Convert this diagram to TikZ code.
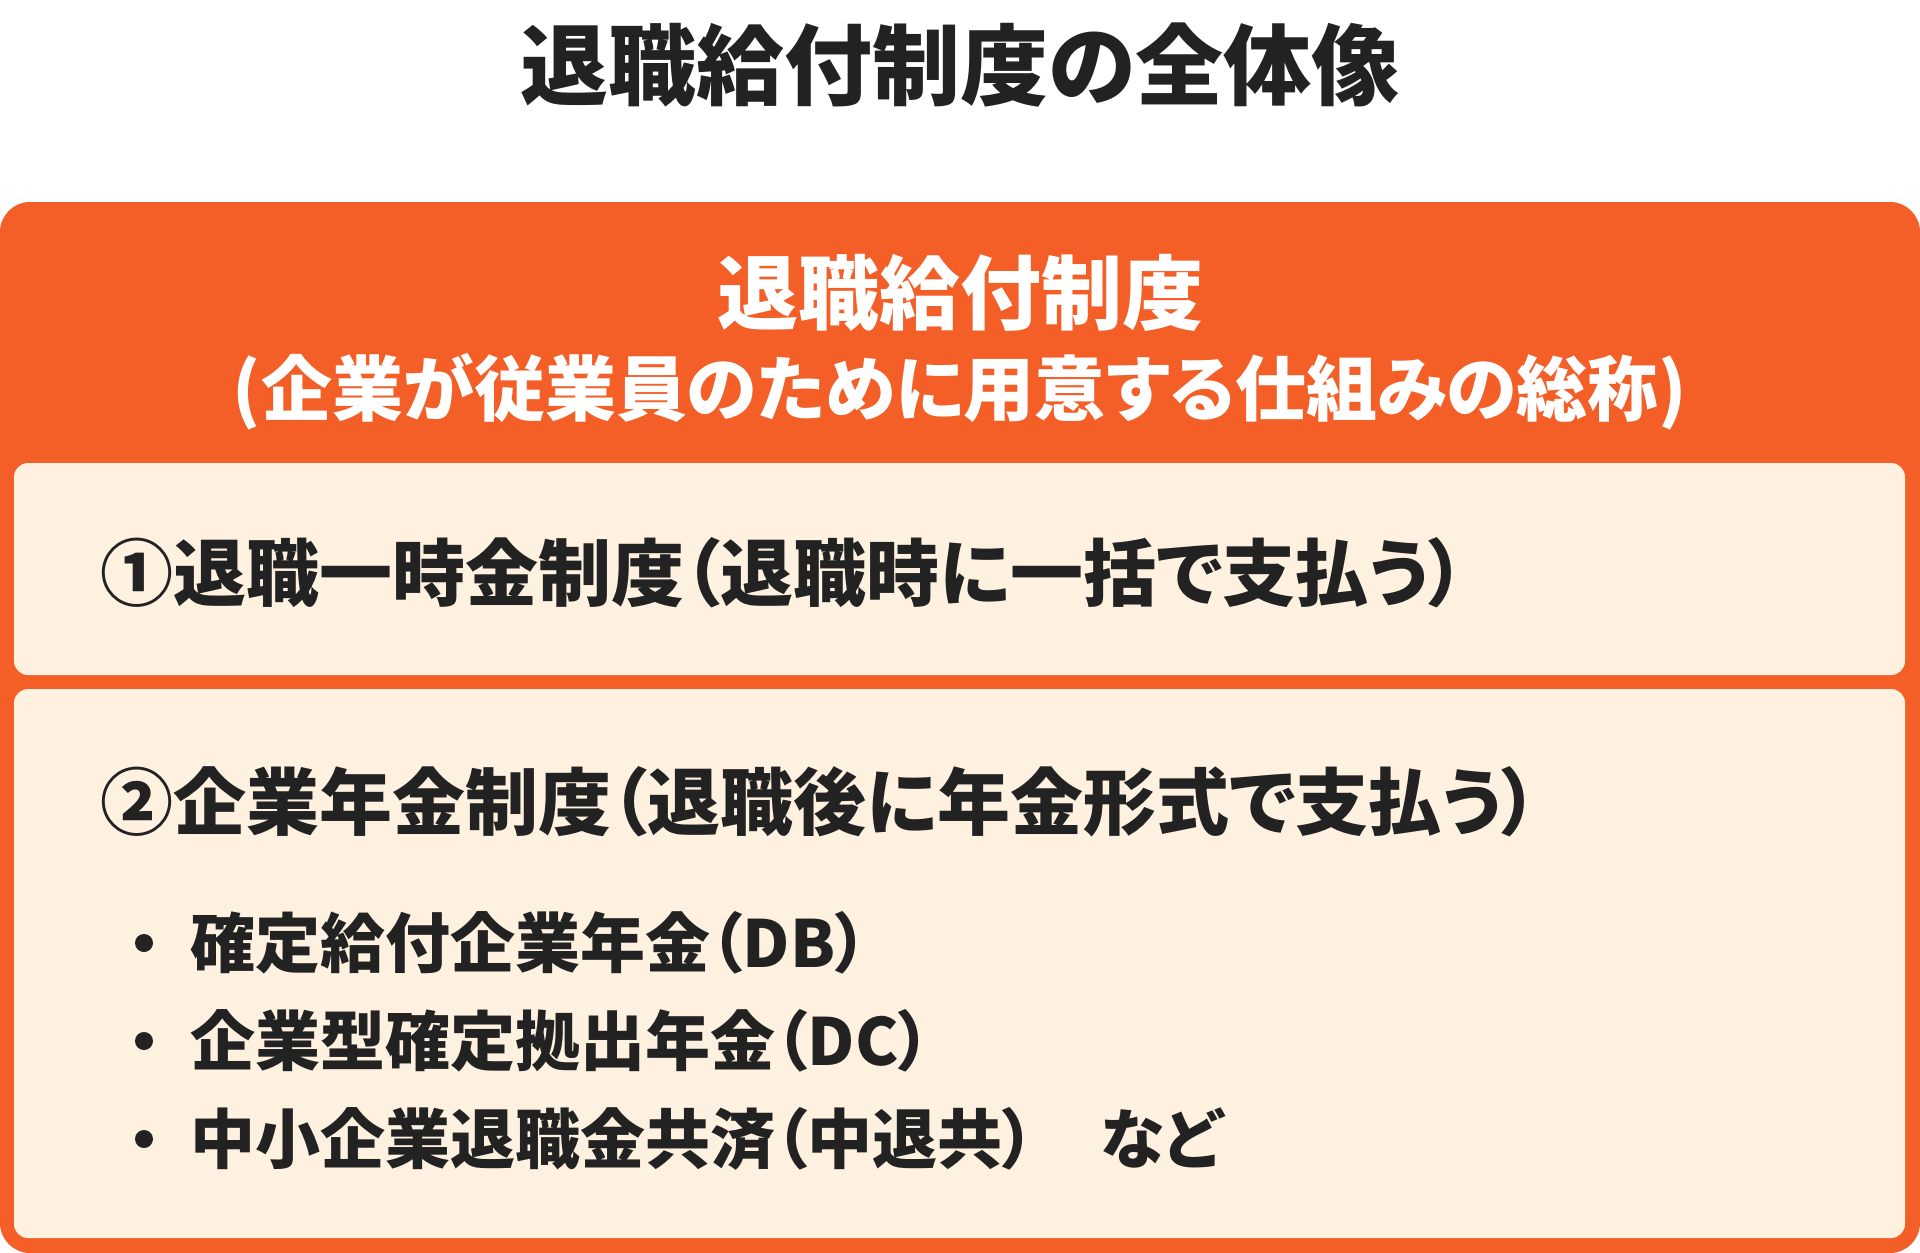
\documentclass[tikz,border=0pt]{standalone}
\usepackage{fontspec}
\setmainfont{Noto Sans CJK JP}[RawFeature=+palt]
\usetikzlibrary{positioning}
\definecolor{retireorange}{RGB}{244,94,39}
\definecolor{retirecream}{RGB}{254,241,224}
\definecolor{retireink}{RGB}{34,34,34}
\tikzset{
  outerframe/.style={fill=retireorange, rounded corners=30pt, inner sep=0pt,
                     minimum width=1920pt, minimum height=1051pt},
  panel/.style={fill=retirecream, rounded corners=14pt, inner sep=0pt,
                minimum width=1891pt},
  titletext/.style={text=retireink, inner sep=0pt,
                    font=\bfseries\fontsize{88}{100}\selectfont},
  headtext/.style={text=white, inner sep=0pt,
                   font=\bfseries\fontsize{81}{90}\selectfont},
  subtext/.style={text=white, inner sep=0pt,
                  font=\bfseries\fontsize{71}{80}\selectfont},
  kindtext/.style={text=retireink, inner sep=0pt, anchor=west,
                   font=\bfseries\fontsize{73}{80}\selectfont},
  itemtext/.style={text=retireink, inner sep=0pt, anchor=west,
                   font=\bfseries\fontsize{65}{72}\selectfont},
  bulletdot/.style={circle, fill=retireink, inner sep=0pt, minimum size=18pt}
}
\begin{document}
\begin{tikzpicture}[x=1pt,y=-1pt]
\useasboundingbox (0,0) rectangle (1920,1253);
% title above the frame
\node[titletext] (title) at (960,65) {退職給付制度の全体像};
% orange frame with its heading
\node[outerframe] (frame) at (960,727.5) {};
\node[headtext] (head) at (960,293) {退職給付制度};
\node[subtext] (sub) at (960,392) {(企業が従業員のために用意する仕組みの総称)};
% the two kinds
\node[panel, minimum height=212pt] (lump) at (959.5,569) {};
\node[panel, minimum height=549pt] (pension) at (959.5,963.5) {};
\node[kindtext] (lumptext) at (100,573) {①退職一時金制度（退職時に一括で支払う）};
\node[kindtext] (pensiontext) at (100,802) {②企業年金制度（退職後に年金形式で支払う）};
% pension plans
\foreach \y/\txt [count=\i] in {943/確定給付企業年金（DB）,
                               1041/企業型確定拠出年金（DC）,
                               1139/中小企業退職金共済（中退共）\hspace{1em}など}
{
  \node[bulletdot] (dot\i) at (144,\y) {};
  \node[itemtext] (item\i) at (190,\y) {\txt};
}
\end{tikzpicture}
\end{document}
